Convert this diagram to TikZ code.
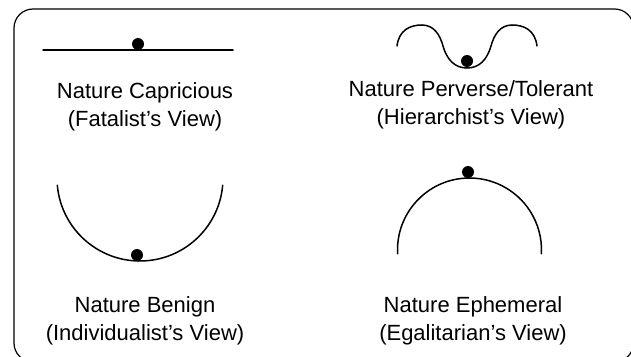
\documentclass[tikz,border=0pt]{standalone}
\usepackage{fontspec}
\setmainfont{Liberation Sans}
\usetikzlibrary{positioning}

\begin{document}
\begin{tikzpicture}[
            x=1pt, y=-1pt,
            curve/.style={line width=1.5pt, line cap=round},
            ball/.style={circle, fill=black, inner sep=0pt, minimum size=12pt},
            caption/.style={align=center, anchor=base, font=\fontsize{22}{28}\selectfont, inner sep=0pt}
        ]
        \clip (0,0) rectangle (631,356);
        \draw[line width=1.2pt, rounded corners=19pt] (14,9) rectangle (633.5,362);

        % capricious
        \draw[curve] (43,50) -- (233,50);
        \node[ball] (capball) at (138,44) {};
        \node[caption] (capricious) at (145,126) {Nature Capricious\\(Fatalist's View)};

        % perverse/tolerant
        \draw[curve] (397,46) .. controls (399,30) and (410,25) .. (422,25)
            .. controls (434,25) and (440,35) .. (443,46)
            .. controls (447,60) and (455,68) .. (467,68)
            .. controls (479,68) and (487,60) .. (491,46)
            .. controls (494,35) and (500,25) .. (512,25)
            .. controls (524,25) and (535,30) .. (537,46);
        \node[ball] (pervball) at (467,61) {};
        \node[caption] (perverse) at (471,124) {Nature Perverse/Tolerant\\(Hierarchist's View)};

        % benign
        \draw[curve] (140,178) ++(175:83) arc[start angle=175, end angle=5, radius=83];
        \node[ball] (benball) at (137,255) {};
        \node[caption] (benign) at (145,340) {Nature Benign\\(Individualist's View)};

        % ephemeral
        \draw[curve] (469.5,250) ++(177:72) arc[start angle=177, end angle=363, radius=72];
        \node[ball] (ephball) at (468,172) {};
        \node[caption] (ephemeral) at (473,340) {Nature Ephemeral\\(Egalitarian's View)};
    \end{tikzpicture}
\end{document}
